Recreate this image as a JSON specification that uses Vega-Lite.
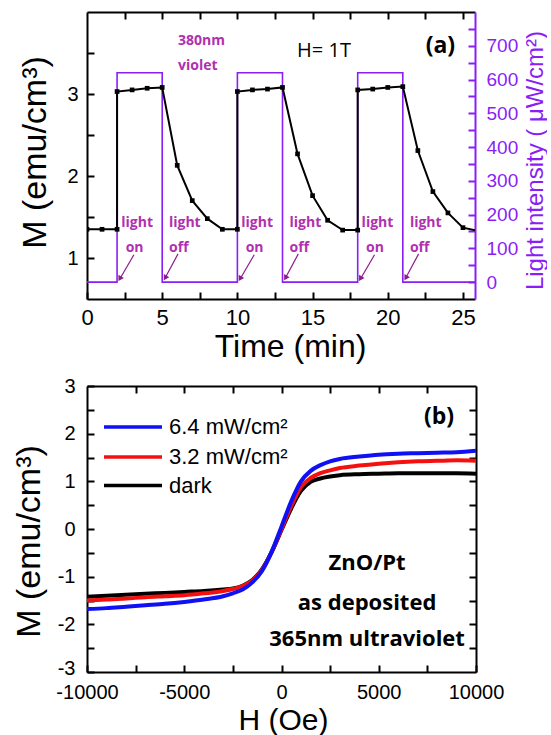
{
  "$schema": "https://vega.github.io/schema/vega-lite/v6.json",
  "autosize": {"type": "pad"},
  "padding": {"left": 11, "top": 11, "right": 0, "bottom": 0},
  "background": "white",
  "bounds": "flush",
  "spacing": 87,
  "config": {
    "view": {"stroke": null},
    "font": "Liberation Sans",
    "axis": {
      "grid": false, "domainColor": "black", "domainWidth": 2, "tickColor": "black", "tickWidth": 2,
      "tickSize": -7, "labelColor": "black", "titleColor": "black", "labelFont": "Liberation Sans",
      "titleFont": "Liberation Sans", "titleFontWeight": "normal", "labelFlush": false, "labelOverlap": false
    }
  },
  "vconcat": [
    {
      "width": 388,
      "height": 287,
      "layer": [
        {
          "data": {"values": [
            {"i": 0, "t": 0, "L": 0}, {"i": 1, "t": 2, "L": 0}, {"i": 2, "t": 2, "L": 620}, {"i": 3, "t": 5, "L": 620},
            {"i": 4, "t": 5, "L": 0}, {"i": 5, "t": 10, "L": 0}, {"i": 6, "t": 10, "L": 620}, {"i": 7, "t": 13, "L": 620},
            {"i": 8, "t": 13, "L": 0}, {"i": 9, "t": 18, "L": 0}, {"i": 10, "t": 18, "L": 620}, {"i": 11, "t": 21, "L": 620},
            {"i": 12, "t": 21, "L": 0}, {"i": 13, "t": 25.8, "L": 0}
          ]},
          "mark": {"type": "line", "color": "#8a1ef5", "strokeWidth": 1.6, "clip": true},
          "encoding": {
            "x": {"field": "t", "type": "quantitative",
              "scale": {"domain": [0, 25.8], "nice": false, "zero": false},
              "axis": {"orient": "bottom", "values": [0, 2.5, 5, 7.5, 10, 12.5, 15, 17.5, 20, 22.5, 25],
                "labelExpr": "datum.value % 5 === 0 ? '' + datum.value : ''", "labelFontSize": 22, "labelPadding": 15,
                "title": "Time (min)", "titleFontSize": 32, "titleX": 203, "titleY": 57, "titleBaseline": "alphabetic", "titleAlign": "center"}},
            "y": {"field": "L", "type": "quantitative",
              "scale": {"domain": [-50, 800], "nice": false, "zero": false},
              "axis": {"orient": "right", "values": [0, 50, 100, 150, 200, 250, 300, 350, 400, 450, 500, 550, 600, 650, 700, 750],
                "labelExpr": "datum.value % 100 === 0 && datum.value <= 700 ? '' + datum.value : ''",
                "domainColor": "#8a1ef5", "tickColor": "#8a1ef5", "labelColor": "#8a1ef5", "titleColor": "#8a1ef5",
                "labelFontSize": 19, "labelPadding": 18, "labelAlign": "left",
                "title": "Light intensity ( μW/cm²)", "titleFontSize": 24, "titleAngle": 270, "titleX": 67, "titleY": 148,
                "titleBaseline": "alphabetic", "titleAlign": "center"}},
            "order": {"field": "i", "type": "quantitative"}
          }
        },
        {
          "data": {"name": "mt"},
          "mark": {"type": "line", "color": "black", "strokeWidth": 2, "clip": true},
          "encoding": {
            "x": {"field": "t", "type": "quantitative", "axis": null},
            "y": {"field": "M", "type": "quantitative",
              "scale": {"domain": [0.5, 4.0], "nice": false, "zero": false},
              "axis": {"orient": "left", "values": [1, 1.5, 2, 2.5, 3, 3.5],
                "labelExpr": "datum.value % 1 === 0 ? '' + datum.value : ''", "labelFontSize": 20, "labelPadding": 16,
                "title": "M (emu/cm³)", "titleFontSize": 34, "titleX": -42, "titleY": 140, "titleBaseline": "alphabetic", "titleAlign": "center"}},
            "order": {"field": "i", "type": "quantitative"}
          }
        },
        {
          "data": {"name": "mt"},
          "mark": {"type": "point", "shape": "square", "filled": true, "color": "black", "size": 22, "opacity": 1, "clip": true},
          "encoding": {
            "x": {"field": "t", "type": "quantitative", "axis": null},
            "y": {"field": "M", "type": "quantitative", "scale": {"domain": [0.5, 4.0], "nice": false, "zero": false}, "axis": null}
          }
        },
        {
          "data": {"values": [
            {"t1": 3.12, "M1": 1.04, "t2": 2.2, "M2": 0.75},
            {"t1": 11.12, "M1": 1.04, "t2": 10.2, "M2": 0.75},
            {"t1": 19.12, "M1": 1.04, "t2": 18.2, "M2": 0.75},
            {"t1": 6.05, "M1": 1.05, "t2": 5.2, "M2": 0.76},
            {"t1": 14.05, "M1": 1.05, "t2": 13.2, "M2": 0.76},
            {"t1": 22.05, "M1": 1.05, "t2": 21.2, "M2": 0.76}
          ]},
          "mark": {"type": "rule", "color": "#8b1c8b", "strokeWidth": 1.2},
          "encoding": {
            "x": {"field": "t1", "type": "quantitative", "axis": null},
            "y": {"field": "M1", "type": "quantitative", "scale": {"domain": [0.5, 4.0], "nice": false, "zero": false}, "axis": null},
            "x2": {"field": "t2"},
            "y2": {"field": "M2"}
          }
        },
        {
          "data": {"values": [
            {"t": 2.18, "M": 0.747}, {"t": 10.18, "M": 0.747}, {"t": 18.18, "M": 0.747},
            {"t": 5.2, "M": 0.757}, {"t": 13.2, "M": 0.757}, {"t": 21.2, "M": 0.757}
          ]},
          "mark": {"type": "point", "shape": "triangle-up", "filled": true, "color": "#8b1c8b", "size": 40, "angle": 210, "opacity": 1},
          "encoding": {
            "x": {"field": "t", "type": "quantitative", "axis": null},
            "y": {"field": "M", "type": "quantitative", "scale": {"domain": [0.5, 4.0], "nice": false, "zero": false}, "axis": null}
          }
        },
        {
          "data": {"values": [
            {"t": 2.28, "M": 1.43, "text": "light"}, {"t": 2.57, "M": 1.125, "text": "on"},
            {"t": 10.26, "M": 1.43, "text": "light"}, {"t": 10.55, "M": 1.125, "text": "on"},
            {"t": 18.26, "M": 1.43, "text": "light"}, {"t": 18.55, "M": 1.125, "text": "on"},
            {"t": 5.45, "M": 1.43, "text": "light"}, {"t": 5.45, "M": 1.125, "text": "off"},
            {"t": 13.47, "M": 1.43, "text": "light"}, {"t": 13.47, "M": 1.125, "text": "off"},
            {"t": 21.47, "M": 1.43, "text": "light"}, {"t": 21.47, "M": 1.125, "text": "off"},
            {"t": 6.05, "M": 3.646, "text": "380nm"}, {"t": 6.05, "M": 3.34, "text": "violet"}
          ]},
          "mark": {"type": "text", "font": "Open Sans", "fontWeight": "bold", "fontSize": 14, "color": "#b030b0", "align": "left", "baseline": "middle"},
          "encoding": {
            "x": {"field": "t", "type": "quantitative", "axis": null},
            "y": {"field": "M", "type": "quantitative", "scale": {"domain": [0.5, 4.0], "nice": false, "zero": false}, "axis": null},
            "text": {"field": "text"}
          }
        },
        {
          "data": {"values": [{"t": 15.76, "M": 3.52, "text": "H= 1T"}]},
          "mark": {"type": "text", "font": "Open Sans", "fontSize": 20, "color": "black", "align": "center", "baseline": "middle"},
          "encoding": {
            "x": {"field": "t", "type": "quantitative", "axis": null},
            "y": {"field": "M", "type": "quantitative", "scale": {"domain": [0.5, 4.0], "nice": false, "zero": false}, "axis": null},
            "text": {"field": "text"}
          }
        },
        {
          "data": {"values": [{"t": 23.5, "M": 3.585, "text": "(a)"}]},
          "mark": {"type": "text", "font": "Open Sans", "fontWeight": "bold", "fontSize": 23, "color": "black", "align": "center", "baseline": "middle"},
          "encoding": {
            "x": {"field": "t", "type": "quantitative",
              "axis": {"orient": "top", "values": [2.5, 5, 7.5, 10, 12.5, 15, 17.5, 20, 22.5, 25], "labels": false, "title": null}},
            "y": {"field": "M", "type": "quantitative", "scale": {"domain": [0.5, 4.0], "nice": false, "zero": false}, "axis": null},
            "text": {"field": "text"}
          }
        }
      ],
      "resolve": {"scale": {"y": "independent"}, "axis": {"x": "independent", "y": "independent"}}
    },
    {
      "width": 389,
      "height": 286,
      "layer": [
        {
          "data": {"name": "hyst"},
          "mark": {"type": "line", "strokeWidth": 4, "interpolate": "monotone"},
          "encoding": {
            "x": {"field": "H", "type": "quantitative",
              "scale": {"domain": [-10000, 10000], "nice": false, "zero": false},
              "axis": {"orient": "bottom", "values": [-10000, -7500, -5000, -2500, 0, 2500, 5000, 7500, 10000],
                "labelExpr": "datum.value % 5000 === 0 ? '' + datum.value : ''", "labelFontSize": 20, "labelPadding": 17,
                "title": "H (Oe)", "titleFontSize": 30, "titleX": 196, "titleY": 57.5, "titleBaseline": "alphabetic", "titleAlign": "center"}},
            "y": {"field": "M", "type": "quantitative",
              "scale": {"domain": [-3, 3], "nice": false, "zero": false},
              "axis": {"orient": "left", "values": [-3, -2.5, -2, -1.5, -1, -0.5, 0, 0.5, 1, 1.5, 2, 2.5, 3],
                "labelExpr": "datum.value % 1 === 0 ? '' + datum.value : ''", "labelFontSize": 20, "labelPadding": 19,
                "labelOffset": {"condition": {"test": "datum.value === -3", "value": -4}, "value": 0},
                "title": "M (emu/cm³)", "titleFontSize": 34, "titleX": -48, "titleY": 155, "titleBaseline": "alphabetic", "titleAlign": "center"}},
            "color": {"field": "s", "type": "nominal",
              "scale": {"domain": ["6.4 mW/cm²", "3.2 mW/cm²", "dark"], "range": ["#1010f5", "#f51010", "#000000"]},
              "legend": null}
          }
        },
        {
          "data": {"values": [
            {"s": "6.4 mW/cm²", "H1": -9126, "H2": -6144, "M": 2.14},
            {"s": "3.2 mW/cm²", "H1": -9126, "H2": -6144, "M": 1.51},
            {"s": "dark", "H1": -9126, "H2": -6144, "M": 0.91}
          ]},
          "mark": {"type": "rule", "strokeWidth": 3.5},
          "encoding": {
            "x": {"field": "H1", "type": "quantitative", "axis": null},
            "x2": {"field": "H2"},
            "y": {"field": "M", "type": "quantitative", "axis": null},
            "color": {"field": "s", "type": "nominal", "legend": null}
          }
        },
        {
          "data": {"values": [
            {"s": "6.4 mW/cm²", "H": -5784, "M": 2.14},
            {"s": "3.2 mW/cm²", "H": -5784, "M": 1.51},
            {"s": "dark", "H": -5784, "M": 0.91}
          ]},
          "mark": {"type": "text", "font": "Liberation Sans", "fontSize": 22, "color": "black", "align": "left", "baseline": "middle"},
          "encoding": {
            "x": {"field": "H", "type": "quantitative", "axis": null},
            "y": {"field": "M", "type": "quantitative", "axis": null},
            "text": {"field": "s"}
          }
        },
        {
          "data": {"values": [
            {"H": 4400, "M": -0.72, "text": "ZnO/Pt"},
            {"H": 4400, "M": -1.56, "text": "as deposited"},
            {"H": 4400, "M": -2.31, "text": "365nm ultraviolet"}
          ]},
          "mark": {"type": "text", "font": "Open Sans", "fontWeight": "bold", "fontSize": 22, "color": "black", "align": "center", "baseline": "middle"},
          "encoding": {
            "x": {"field": "H", "type": "quantitative",
              "axis": {"orient": "top", "values": [-7500, -5000, -2500, 0, 2500, 5000, 7500], "labels": false, "title": null}},
            "y": {"field": "M", "type": "quantitative",
              "axis": {"orient": "right", "values": [-2.5, -2, -1.5, -1, -0.5, 0, 0.5, 1, 1.5, 2, 2.5], "labels": false, "title": null}},
            "text": {"field": "text"}
          }
        },
        {
          "data": {"values": [{"H": 8100, "M": 2.35, "text": "(b)"}]},
          "mark": {"type": "text", "font": "Open Sans", "fontWeight": "bold", "fontSize": 23, "color": "black", "align": "center", "baseline": "middle"},
          "encoding": {
            "x": {"field": "H", "type": "quantitative", "axis": null},
            "y": {"field": "M", "type": "quantitative", "axis": null},
            "text": {"field": "text"}
          }
        }
      ],
      "resolve": {"axis": {"x": "independent", "y": "independent"}}
    }
  ],
  "datasets": {
    "mt": [
      {"i": 0, "t": 0, "M": 1.35}, {"i": 1, "t": 1, "M": 1.35}, {"i": 2, "t": 2, "M": 1.35}, {"i": 3, "t": 2, "M": 3.03},
      {"i": 4, "t": 3, "M": 3.05}, {"i": 5, "t": 4, "M": 3.07}, {"i": 6, "t": 5, "M": 3.08}, {"i": 7, "t": 6, "M": 2.13},
      {"i": 8, "t": 7, "M": 1.70}, {"i": 9, "t": 8, "M": 1.48}, {"i": 10, "t": 9, "M": 1.35}, {"i": 11, "t": 10, "M": 1.35},
      {"i": 12, "t": 10, "M": 3.03}, {"i": 13, "t": 11, "M": 3.05}, {"i": 14, "t": 12, "M": 3.06}, {"i": 15, "t": 13, "M": 3.08},
      {"i": 16, "t": 14, "M": 2.27}, {"i": 17, "t": 15, "M": 1.76}, {"i": 18, "t": 16, "M": 1.46}, {"i": 19, "t": 17, "M": 1.34},
      {"i": 20, "t": 18, "M": 1.34}, {"i": 21, "t": 18, "M": 3.05}, {"i": 22, "t": 19, "M": 3.06}, {"i": 23, "t": 20, "M": 3.08},
      {"i": 24, "t": 21, "M": 3.09}, {"i": 25, "t": 22, "M": 2.31}, {"i": 26, "t": 23, "M": 1.81}, {"i": 27, "t": 24, "M": 1.55},
      {"i": 28, "t": 25, "M": 1.37}, {"i": 29, "t": 26, "M": 1.33}
    ],
    "hyst": [
      {"s": "dark", "H": -10000, "M": -1.42}, {"s": "dark", "H": -9000, "M": -1.40}, {"s": "dark", "H": -8000, "M": -1.38},
      {"s": "dark", "H": -7000, "M": -1.36}, {"s": "dark", "H": -6000, "M": -1.34}, {"s": "dark", "H": -5000, "M": -1.32},
      {"s": "dark", "H": -4000, "M": -1.30}, {"s": "dark", "H": -3000, "M": -1.27}, {"s": "dark", "H": -2500, "M": -1.25},
      {"s": "dark", "H": -2000, "M": -1.19}, {"s": "dark", "H": -1500, "M": -1.07}, {"s": "dark", "H": -1000, "M": -0.84},
      {"s": "dark", "H": -500, "M": -0.48}, {"s": "dark", "H": 0, "M": -0.02}, {"s": "dark", "H": 500, "M": 0.43},
      {"s": "dark", "H": 1000, "M": 0.80}, {"s": "dark", "H": 1500, "M": 0.99}, {"s": "dark", "H": 2000, "M": 1.06},
      {"s": "dark", "H": 2500, "M": 1.10}, {"s": "dark", "H": 3000, "M": 1.13}, {"s": "dark", "H": 4000, "M": 1.15},
      {"s": "dark", "H": 5000, "M": 1.16}, {"s": "dark", "H": 6000, "M": 1.17}, {"s": "dark", "H": 7000, "M": 1.17},
      {"s": "dark", "H": 8000, "M": 1.17}, {"s": "dark", "H": 9000, "M": 1.17}, {"s": "dark", "H": 10000, "M": 1.16},
      {"s": "3.2 mW/cm²", "H": -10000, "M": -1.50}, {"s": "3.2 mW/cm²", "H": -9000, "M": -1.48}, {"s": "3.2 mW/cm²", "H": -8000, "M": -1.46},
      {"s": "3.2 mW/cm²", "H": -7000, "M": -1.43}, {"s": "3.2 mW/cm²", "H": -6000, "M": -1.41}, {"s": "3.2 mW/cm²", "H": -5000, "M": -1.39},
      {"s": "3.2 mW/cm²", "H": -4000, "M": -1.35}, {"s": "3.2 mW/cm²", "H": -3000, "M": -1.30}, {"s": "3.2 mW/cm²", "H": -2500, "M": -1.26},
      {"s": "3.2 mW/cm²", "H": -2000, "M": -1.20}, {"s": "3.2 mW/cm²", "H": -1500, "M": -1.08}, {"s": "3.2 mW/cm²", "H": -1000, "M": -0.85},
      {"s": "3.2 mW/cm²", "H": -500, "M": -0.48}, {"s": "3.2 mW/cm²", "H": 0, "M": 0.00}, {"s": "3.2 mW/cm²", "H": 500, "M": 0.48},
      {"s": "3.2 mW/cm²", "H": 1000, "M": 0.88}, {"s": "3.2 mW/cm²", "H": 1500, "M": 1.07}, {"s": "3.2 mW/cm²", "H": 2000, "M": 1.17},
      {"s": "3.2 mW/cm²", "H": 2500, "M": 1.23}, {"s": "3.2 mW/cm²", "H": 3000, "M": 1.28}, {"s": "3.2 mW/cm²", "H": 4000, "M": 1.33},
      {"s": "3.2 mW/cm²", "H": 5000, "M": 1.37}, {"s": "3.2 mW/cm²", "H": 6000, "M": 1.40}, {"s": "3.2 mW/cm²", "H": 7000, "M": 1.42},
      {"s": "3.2 mW/cm²", "H": 8000, "M": 1.43}, {"s": "3.2 mW/cm²", "H": 9000, "M": 1.44}, {"s": "3.2 mW/cm²", "H": 10000, "M": 1.43},
      {"s": "6.4 mW/cm²", "H": -10000, "M": -1.68}, {"s": "6.4 mW/cm²", "H": -9000, "M": -1.66}, {"s": "6.4 mW/cm²", "H": -8000, "M": -1.63},
      {"s": "6.4 mW/cm²", "H": -7000, "M": -1.60}, {"s": "6.4 mW/cm²", "H": -6000, "M": -1.57}, {"s": "6.4 mW/cm²", "H": -5000, "M": -1.53},
      {"s": "6.4 mW/cm²", "H": -4000, "M": -1.48}, {"s": "6.4 mW/cm²", "H": -3000, "M": -1.41}, {"s": "6.4 mW/cm²", "H": -2500, "M": -1.35},
      {"s": "6.4 mW/cm²", "H": -2000, "M": -1.27}, {"s": "6.4 mW/cm²", "H": -1500, "M": -1.12}, {"s": "6.4 mW/cm²", "H": -1000, "M": -0.88},
      {"s": "6.4 mW/cm²", "H": -500, "M": -0.47}, {"s": "6.4 mW/cm²", "H": 0, "M": 0.05}, {"s": "6.4 mW/cm²", "H": 500, "M": 0.58},
      {"s": "6.4 mW/cm²", "H": 1000, "M": 1.00}, {"s": "6.4 mW/cm²", "H": 1500, "M": 1.22}, {"s": "6.4 mW/cm²", "H": 2000, "M": 1.34},
      {"s": "6.4 mW/cm²", "H": 2500, "M": 1.42}, {"s": "6.4 mW/cm²", "H": 3000, "M": 1.47}, {"s": "6.4 mW/cm²", "H": 4000, "M": 1.52},
      {"s": "6.4 mW/cm²", "H": 5000, "M": 1.56}, {"s": "6.4 mW/cm²", "H": 6000, "M": 1.58}, {"s": "6.4 mW/cm²", "H": 7000, "M": 1.59},
      {"s": "6.4 mW/cm²", "H": 8000, "M": 1.60}, {"s": "6.4 mW/cm²", "H": 9000, "M": 1.61}, {"s": "6.4 mW/cm²", "H": 10000, "M": 1.64}
    ]
  }
}
